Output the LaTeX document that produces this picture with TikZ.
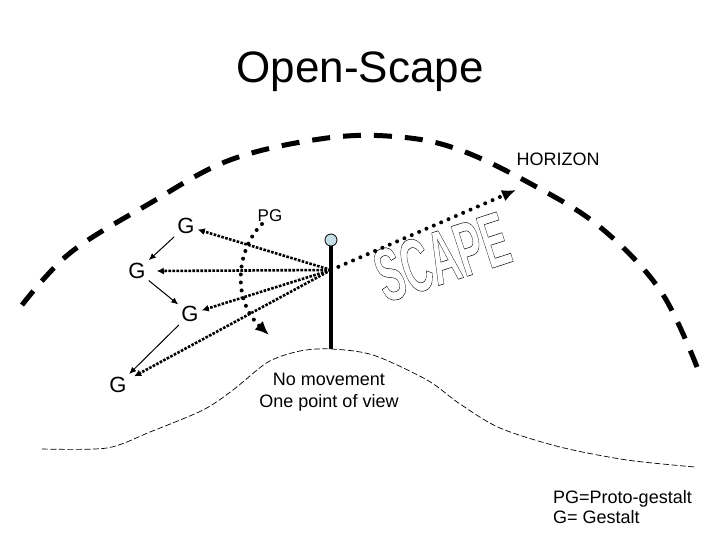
\documentclass[tikz,border=0pt]{standalone}
\usepackage{fontspec}
\setmainfont{Liberation Sans}
\usepackage{xcolor}
\usepackage{tikz}
\usetikzlibrary{arrows.meta,positioning,calc}

\definecolor{poleBlue}{RGB}{196,224,228}
\newcommand{\outlineText}[1]{\special{pdf:literal 1 Tr 0.5 w}#1\special{pdf:literal 0 Tr}}

\begin{document}
\begin{tikzpicture}[
    x=1pt,
    y=-1pt,
    >=Latex,
    plainText/.style={
        font=\fontsize{18}{22}\selectfont,
        align=center,
        inner sep=0pt
    },
    gestalt/.style={
        font=\fontsize{22}{26}\selectfont,
        inner sep=3pt
    },
    horizon/.style={
        line width=5pt,
        dash pattern=on 18pt off 13pt
    },
    ground/.style={
        line width=0.7pt,
        dash pattern=on 6pt off 2.5pt
    },
    ray/.style={
        -{Latex[length=7pt,width=7pt]},
        line width=2.6pt,
        dash pattern=on 2.6pt off 1.4pt
    },
    dotRay/.style={
        -{Latex[length=14pt,width=12pt]},
        line width=4pt,
        line cap=round,
        dash pattern=on 0pt off 8pt
    },
    link/.style={
        -{Latex[length=7pt,width=6pt]},
        line width=1pt
    }
]

\useasboundingbox (0,0) rectangle (720,540);

% Title
\node[plainText, font=\fontsize{44}{50}\selectfont, anchor=base] (title) at (360,83) {Open-Scape};

% Horizon
\draw[horizon] plot[smooth, tension=0.6] coordinates {
    (22,305) (70,253) (147,205) (230,160) (327,138) (400,137)
    (460,150) (533,185) (600,227) (660,290) (697,367)
};
\node[plainText] (horizonLabel) at (558,159) {HORIZON};

% Ground
\draw[ground] plot[smooth, tension=0.5] coordinates {
    (42,449) (107,448) (150,432) (203,410) (233,390) (268,362)
    (300,351) (331,349) (373,355) (427,380) (460,404) (500,428)
    (560,447) (627,460) (695,467)
};
\coordinate (hillTop) at (331,349);

% Pole
\node[draw, circle, fill=poleBlue, minimum size=12pt, inner sep=0pt, line width=0.8pt] (eye) at (331,240) {};
\draw[line width=3.5pt] (eye.south) -- (hillTop);
\coordinate (viewpoint) at (331,270);

% Gestalts
\node[gestalt] (g1) at (186,226) {G};
\node[gestalt] (g2) at (137,271) {G};
\node[gestalt] (g3) at (190,314) {G};
\node[gestalt] (g4) at (118,385) {G};
\node[plainText, font=\fontsize{17}{20}\selectfont] (pgLabel) at (270,216) {PG};

% Rays from the view point
\draw[ray] (viewpoint) -- (g1);
\draw[ray] (viewpoint) -- ([xshift=8pt]g2.east);
\draw[ray] (viewpoint) -- (g3);
\draw[ray, shorten >=5pt] (viewpoint) -- (g4);

% Gestalt chain
\draw[link] (g1) -- (g2);
\draw[link] (g2) -- (g3);
\draw[link] (g3) -- (g4);

% Proto-gestalt sweep
\coordinate (pgStart) at (262,224);
\coordinate (pgEnd) at (269,335);
\draw[dotRay]
    (pgStart)
    .. controls (236,250) and (232,300) ..
    (pgEnd);

% Scape ray towards the horizon
\coordinate (horizonTip) at (516,190);
\draw[dotRay] (viewpoint) -- (horizonTip);

\node[inner sep=0pt, font=\bfseries\fontsize{76}{76}\selectfont, rotate=18, xscale=0.52] (scapeWord) at (442,257) {\outlineText{SCAPE}};

% Notes
\node[plainText] (note) at (329,392) {No movement\\One point of view};
\node[plainText, align=left, anchor=west, font=\fontsize{18}{20}\selectfont] (legend) at (553,507) {PG=Proto-gestalt\\G= Gestalt};

\end{tikzpicture}
\end{document}
